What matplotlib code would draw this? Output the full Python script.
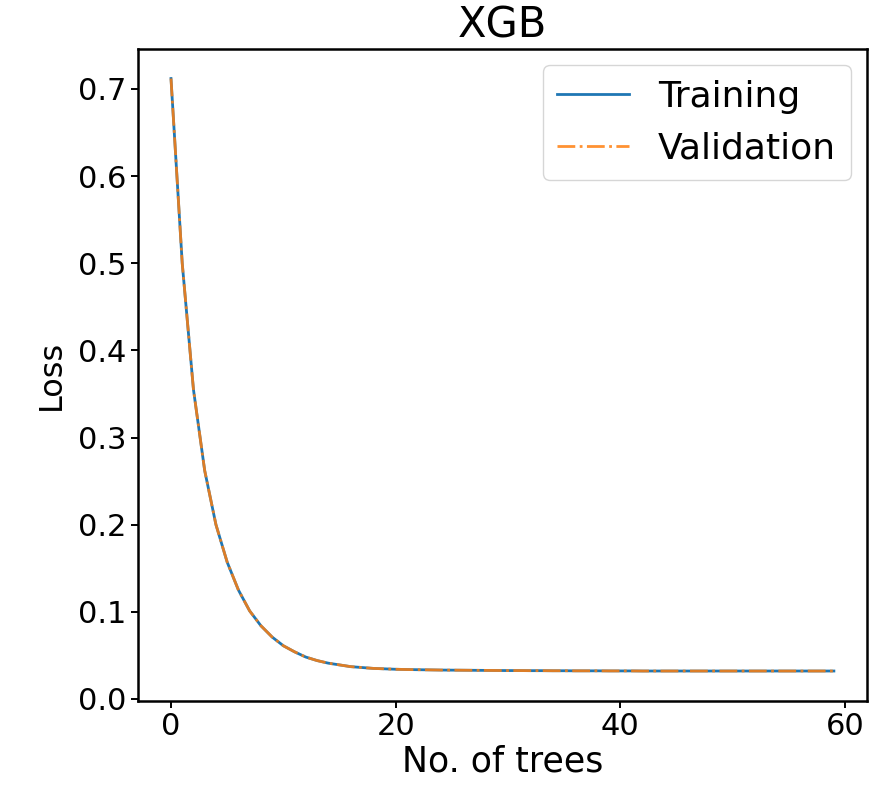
import matplotlib
matplotlib.use("Agg")
import matplotlib.pyplot as plt
import numpy as np

n_trees = list(range(60))
train_loss = [0.712, 0.500, 0.355, 0.262, 0.200, 0.157, 0.125, 0.101, 0.084, 0.071,
              0.061, 0.054, 0.048, 0.044, 0.041, 0.039, 0.037, 0.036, 0.035, 0.0345,
              0.034, 0.0337, 0.0335, 0.0333, 0.0331, 0.0330, 0.0329, 0.0328, 0.0327, 0.0326,
              0.0325, 0.0325, 0.0324, 0.0324, 0.0323, 0.0323, 0.0322, 0.0322, 0.0322, 0.0321,
              0.0321, 0.0321, 0.0320, 0.0320, 0.0320, 0.0320, 0.0320, 0.0320, 0.0320, 0.0320,
              0.0320, 0.0320, 0.0320, 0.0320, 0.0320, 0.0320, 0.0320, 0.0320, 0.0320, 0.0320]
val_loss = [0.712, 0.500, 0.355, 0.262, 0.200, 0.157, 0.125, 0.101, 0.084, 0.071,
            0.061, 0.054, 0.048, 0.044, 0.041, 0.039, 0.037, 0.036, 0.035, 0.0345,
            0.034, 0.0337, 0.0335, 0.0333, 0.0331, 0.0330, 0.0329, 0.0328, 0.0327, 0.0326,
            0.0325, 0.0325, 0.0324, 0.0324, 0.0323, 0.0323, 0.0322, 0.0322, 0.0322, 0.0321,
            0.0321, 0.0321, 0.0320, 0.0320, 0.0320, 0.0320, 0.0320, 0.0320, 0.0320, 0.0320,
            0.0320, 0.0320, 0.0320, 0.0320, 0.0320, 0.0320, 0.0320, 0.0320, 0.0320, 0.0320]
x_ticks = [0, 20, 40, 60]

fig = plt.figure(figsize=(8.78, 7.89), dpi=100)
ax = fig.add_axes([0.157, 0.112, 0.8305, 0.826])

ax.plot(n_trees, train_loss, color="#1f77b4", linewidth=2.0, label="Training")
ax.plot(n_trees, val_loss, color="#ff7f0e", linewidth=2.0, linestyle="-.",
        alpha=0.85, label="Validation")

ax.set_xticks(x_ticks)
ax.set_title("XGB", fontsize=30, pad=8)
ax.set_xlabel("No. of trees", fontsize=25, labelpad=2)
ax.set_ylabel("Loss", fontsize=23, labelpad=8)
ax.tick_params(labelsize=22, width=1.4, length=5)
for s in ax.spines.values():
    s.set_linewidth(1.8)
ax.legend(fontsize=26, loc="upper right", borderaxespad=0.45)

fig.savefig("out.png", dpi=100)
